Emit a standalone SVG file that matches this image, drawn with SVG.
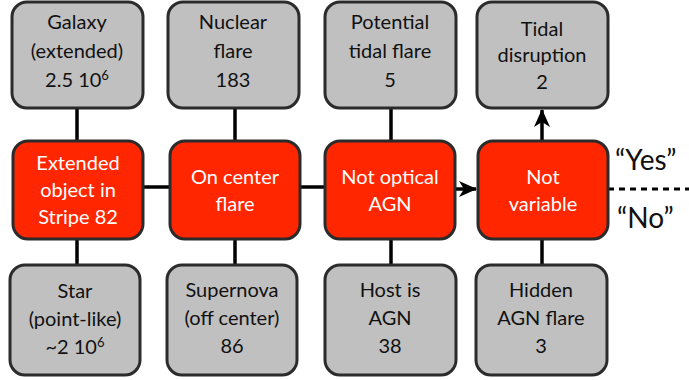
<svg xmlns="http://www.w3.org/2000/svg" width="689" height="380" viewBox="0 0 689 380">
<defs>
<style>
.g{fill:#c0c0c0;stroke:#2b2b2b;stroke-width:3}
.r{fill:#ff2600;stroke:#2b2b2b;stroke-width:3}
.t{font-family:Lato,"Open Sans","Liberation Sans",sans-serif;font-size:20px;text-anchor:middle;fill:#111}
.w{fill:#fff}
.c{stroke:#000;stroke-width:3.5;fill:none}
.q{font-family:Lato,"Open Sans","Liberation Sans",sans-serif;font-size:28px;fill:#111}
</style>
<marker id="ah" viewBox="0 0 18 16" refX="17" refY="8" markerWidth="18" markerHeight="16" markerUnits="userSpaceOnUse" orient="auto">
<path d="M0,0 L18,8 L0,16 L5,8 Z" fill="#000"/>
</marker>
</defs>
<rect width="689" height="380" fill="#fff"/>
<g id="connectors">
<line class="c" x1="77" y1="108" x2="77" y2="141"/>
<line class="c" x1="235" y1="108" x2="235" y2="141"/>
<line class="c" x1="391" y1="108" x2="391" y2="141"/>
<line class="c" x1="542" y1="141" x2="542" y2="110" marker-end="url(#ah)"/>
<line class="c" x1="77" y1="239" x2="77" y2="265"/>
<line class="c" x1="235" y1="239" x2="235" y2="265"/>
<line class="c" x1="391" y1="239" x2="391" y2="265"/>
<line class="c" x1="542" y1="239" x2="542" y2="265"/>
<line class="c" x1="143" y1="187" x2="170" y2="187"/>
<line class="c" x1="300" y1="187" x2="325" y2="187"/>
<line class="c" x1="455" y1="189" x2="476" y2="189" marker-end="url(#ah)"/>
<line x1="608" y1="189" x2="689" y2="189" stroke="#000" stroke-width="3" stroke-dasharray="6,5"/>
</g>
<g id="galaxy"><rect class="g" x="12" y="2" width="131" height="106" rx="15"/>
<text class="t" x="77" y="29">Galaxy</text><text class="t" x="77" y="58">(extended)</text><text class="t" x="77" y="87">2.5 10<tspan font-size="13" dy="-7">6</tspan></text></g>
<g id="nuclear"><rect class="g" x="168" y="2" width="131" height="106" rx="15"/>
<text class="t" x="233" y="29">Nuclear</text><text class="t" x="233" y="58">flare</text><text class="t" x="233" y="87">183</text></g>
<g id="potential"><rect class="g" x="325" y="2" width="131" height="106" rx="15"/>
<text class="t" x="390" y="29">Potential</text><text class="t" x="390" y="58">tidal flare</text><text class="t" x="390" y="87">5</text></g>
<g id="tidal"><rect class="g" x="477" y="2" width="131" height="106" rx="15"/>
<text class="t" x="542" y="36">Tidal</text><text class="t" x="542" y="62">disruption</text><text class="t" x="542" y="89">2</text></g>
<g id="extended"><rect class="r" x="13" y="141" width="130" height="98" rx="15"/>
<text class="t w" x="78" y="170">Extended</text><text class="t w" x="78" y="197">object in</text><text class="t w" x="78" y="224">Stripe 82</text></g>
<g id="oncenter"><rect class="r" x="170" y="141" width="130" height="98" rx="15"/>
<text class="t w" x="235" y="184">On center</text><text class="t w" x="235" y="211">flare</text></g>
<g id="notoptical"><rect class="r" x="325" y="141" width="130" height="98" rx="15"/>
<text class="t w" x="390" y="184">Not optical</text><text class="t w" x="390" y="211">AGN</text></g>
<g id="notvariable"><rect class="r" x="478" y="141" width="130" height="98" rx="15"/>
<text class="t w" x="543" y="184">Not</text><text class="t w" x="543" y="211">variable</text></g>
<g id="star"><rect class="g" x="10" y="265" width="130" height="110" rx="15"/>
<text class="t" x="75" y="298">Star</text><text class="t" x="75" y="326">(point-like)</text><text class="t" x="75" y="354">~2 10<tspan font-size="13" dy="-7">6</tspan></text></g>
<g id="supernova"><rect class="g" x="167" y="265" width="130" height="110" rx="15"/>
<text class="t" x="232" y="297">Supernova</text><text class="t" x="232" y="325">(off center)</text><text class="t" x="232" y="353">86</text></g>
<g id="host"><rect class="g" x="325" y="265" width="131" height="110" rx="15"/>
<text class="t" x="390" y="297">Host is</text><text class="t" x="390" y="325">AGN</text><text class="t" x="390" y="353">38</text></g>
<g id="hidden"><rect class="g" x="476" y="265" width="131" height="110" rx="15"/>
<text class="t" x="541" y="297">Hidden</text><text class="t" x="541" y="325">AGN flare</text><text class="t" x="541" y="353">3</text></g>
<g id="labels">
<text class="q" x="615" y="170">“Yes”</text>
<text class="q" x="617" y="228">“No”</text>
</g>
</svg>
